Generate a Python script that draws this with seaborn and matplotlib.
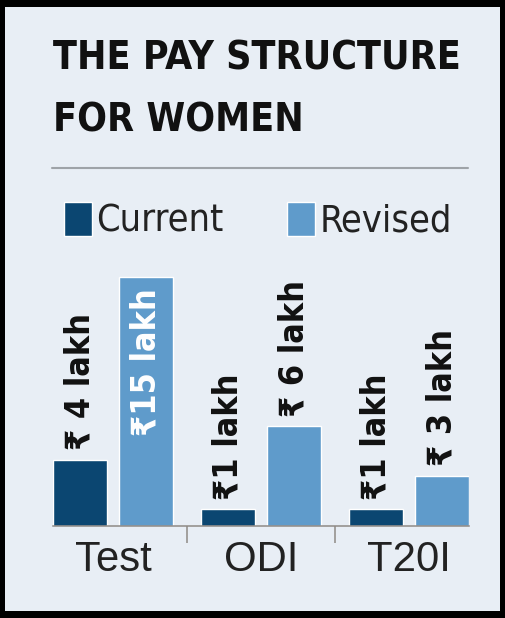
import pandas as pd
import seaborn as sns
import matplotlib.pyplot as plt
from matplotlib import font_manager
from matplotlib.patches import Rectangle
from matplotlib.lines import Line2D

formats = ["Test", "ODI", "T20I"]
current = [4, 1, 1]
revised = [15, 6, 3]
current_labels = ["₹ 4 lakh", "₹1 lakh", "₹1 lakh"]
revised_labels = ["₹15 lakh", "₹ 6 lakh", "₹ 3 lakh"]

df = pd.DataFrame({
    "format": formats * 2,
    "pay": current + revised,
    "kind": ["Current"] * 3 + ["Revised"] * 3,
})

# look for a narrow sans face if one is installed
narrow_name, stretch = "DejaVu Sans", "normal"
cond = [f for f in font_manager.fontManager.ttflist
        if ("Sans" in f.name and "Mono" not in f.name and "CJK" not in f.name)
        and (f.stretch not in ("normal", 500) or "Narrow" in f.name or "Condensed" in f.name)]
for pref in ["Liberation Sans Narrow", "DejaVu Sans"]:
    hit = [f for f in cond if f.name == pref]
    if hit:
        narrow_name, stretch = hit[0].name, hit[0].stretch
        break
else:
    if cond:
        narrow_name, stretch = cond[0].name, cond[0].stretch
fam_narrow = [narrow_name, "DejaVu Sans"]
fam_regular = ["Liberation Sans", "DejaVu Sans"]

sns.set_style("white")
plt.rcParams["font.family"] = fam_narrow

W, H = 505, 618
fig = plt.figure(figsize=(W / 100, H / 100), dpi=100)
renderer = fig.canvas.get_renderer()


def size_for(text, target, **kw):
    t = fig.text(0, 0, text, fontsize=10, **kw)
    w = t.get_window_extent(renderer).width
    t.remove()
    return 10 * target / w


fig.patch.set_facecolor("black")
fig.add_artist(Rectangle((5 / W, 7 / H), 495 / W, 604 / H, transform=fig.transFigure,
                         facecolor="#e8eef5", edgecolor="none", zorder=0))

# title
title_kw = dict(fontweight="bold", family=fam_narrow, fontstretch=stretch)
ts = size_for("THE PAY STRUCTURE", 407, **title_kw)
fig.text(53 / W, 1 - 54 / H, "THE PAY STRUCTURE", fontsize=ts, color="#111111",
         va="center_baseline", ha="left", **title_kw)
fig.text(53 / W, 1 - 117 / H, "FOR WOMEN", fontsize=ts, color="#111111",
         va="center_baseline", ha="left", **title_kw)
fig.add_artist(Line2D([52 / W, 468 / W], [1 - 168 / H] * 2, transform=fig.transFigure,
                      color="#9ea3a8", lw=1.5))

palette = {"Current": "#0b4671", "Revised": "#5f9bcb"}

ax = fig.add_axes([53 / W, 1 - 526 / H, 416 / W, 265.6 / H])
ax.set_facecolor("none")
sns.barplot(data=df, x="format", y="pay", hue="kind", palette=palette,
            width=0.892, gap=0.18, saturation=1, ax=ax, legend=True)

ax.set_ylim(0, 16)
ax.set_xlim(-0.406, 2.406)
ax.set_xlabel("")
ax.set_ylabel("")
ax.set_yticks([])
for s in ["top", "right", "left"]:
    ax.spines[s].set_visible(False)
ax.spines["bottom"].set_color("#8f8a86")
ax.spines["bottom"].set_linewidth(1.1)

xs = size_for("Test", 77, family=fam_regular)
ax.set_xticks([0.5, 1.5], minor=True)
ax.tick_params(axis="x", which="minor", bottom=True, length=12.5, width=1.1,
               color="#8f8a86", direction="out")
ax.tick_params(axis="x", which="major", bottom=False, length=0, pad=10,
               labelsize=xs, labelcolor="#222222")
for t in ax.get_xticklabels():
    t.set_family(fam_regular)

# value labels
lab_kw = dict(fontweight="bold", family=fam_narrow, fontstretch=stretch)
ls = size_for("₹ 6 lakh", 136, **lab_kw)
all_labels = [current_labels, revised_labels]
for cont, labels in zip(ax.containers, all_labels):
    for bar, lab in zip(cont, labels):
        xc = bar.get_x() + bar.get_width() / 2
        h = bar.get_height()
        if h > 10:
            ax.annotate(lab, (xc, h), xytext=(0, -8), textcoords="offset points",
                        rotation=90, ha="center", va="top", fontsize=ls,
                        color="white", **lab_kw)
        else:
            ax.annotate(lab, (xc, h), xytext=(0, 7), textcoords="offset points",
                        rotation=90, ha="center", va="bottom", fontsize=ls,
                        color="#111111", **lab_kw)

handles, labels = ax.get_legend_handles_labels()
ax.get_legend().remove()
gs = size_for("Current", 128, family=fam_narrow, fontstretch=stretch)
fig.legend(handles, labels, loc="center left", bbox_to_anchor=(64 / W, 1 - 221 / H),
           bbox_transform=fig.transFigure, ncol=2, frameon=False,
           prop=dict(size=gs, family=fam_narrow, stretch=stretch),
           handlelength=28 / (gs * 1.389), handleheight=38 / (gs * 1.389),
           handletextpad=0.12, columnspacing=63 / (gs * 1.389),
           borderpad=0, borderaxespad=0, labelcolor="#222222")

fig.savefig("out.png", dpi=100, facecolor=fig.get_facecolor())
